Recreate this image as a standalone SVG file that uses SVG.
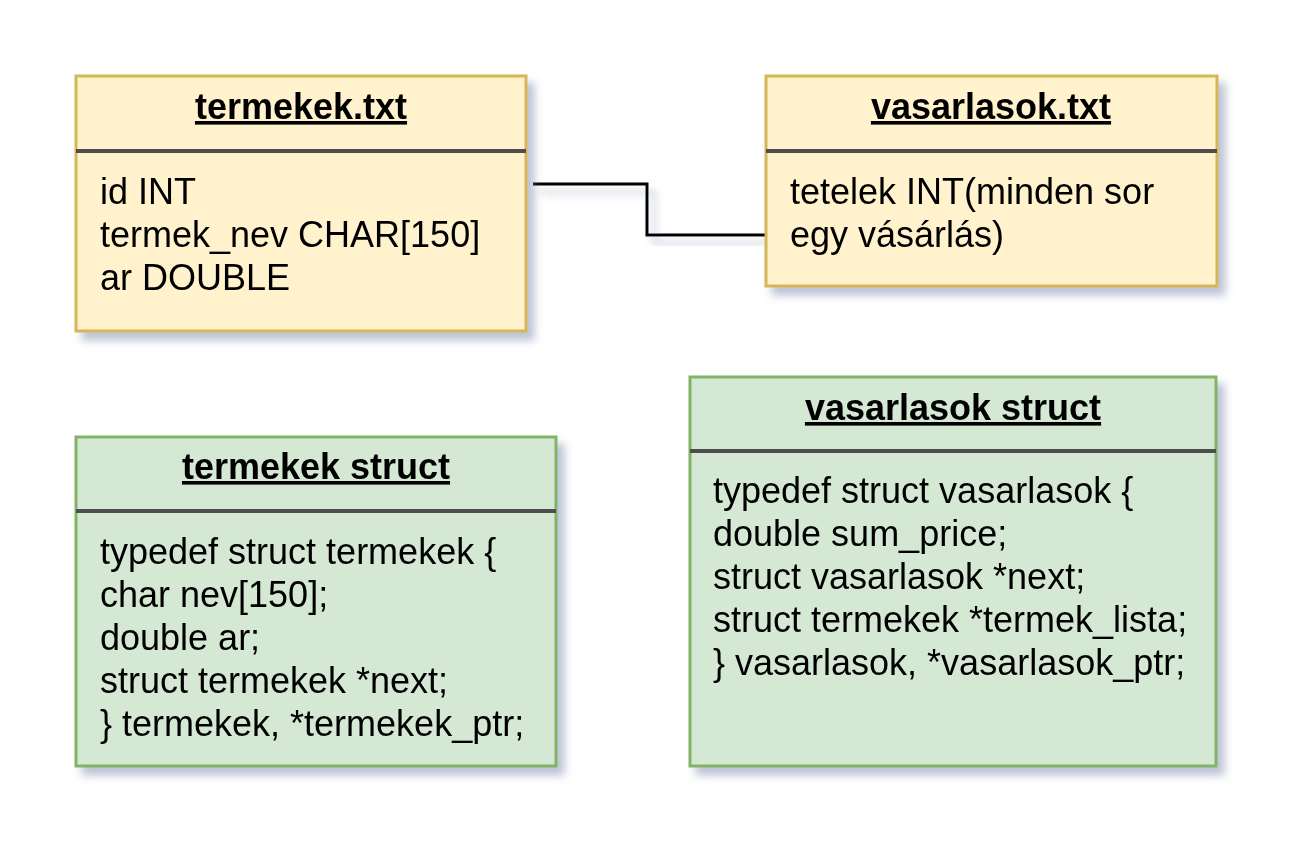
<svg xmlns="http://www.w3.org/2000/svg" width="1311" height="861" viewBox="0 0 1311 861">
<defs>
<filter id="sh" x="-10%" y="-10%" width="130%" height="130%">
<feGaussianBlur in="SourceAlpha" stdDeviation="4"/>
<feOffset dx="7" dy="8" result="b"/>
<feFlood flood-color="#6a7aa0" flood-opacity="0.45"/>
<feComposite in2="b" operator="in" result="s"/>
<feMerge><feMergeNode in="s"/><feMergeNode in="SourceGraphic"/></feMerge>
</filter>
<style>
.y{fill:#fff2cc;stroke:#d6b656;stroke-width:3}
.g{fill:#d5e8d4;stroke:#82b366;stroke-width:3}
.div{stroke:#4d4d4d;stroke-width:4}
.t{font-family:"Liberation Sans",Arial,sans-serif;font-size:36px;font-weight:bold;text-anchor:middle;text-decoration:underline;fill:#000}
.b{font-family:"Liberation Sans",Arial,sans-serif;font-size:36px;fill:#000}
.e{fill:none;stroke:#000;stroke-width:3}
</style>
</defs>
<rect width="1311" height="861" fill="#ffffff"/>
<g id="edges" filter="url(#sh)">
<path class="e" d="M533,184 H647 V235 H766"/>
</g>
<g id="termekek_txt" filter="url(#sh)">
<rect class="y" x="76" y="76" width="450" height="255"/>
<line class="div" x1="76" y1="151" x2="526" y2="151"/>
<text class="t" x="301" y="119">termekek.txt</text>
<text class="b" x="100" y="204">id INT</text>
<text class="b" x="100" y="247">termek_nev CHAR[150]</text>
<text class="b" x="100" y="290">ar DOUBLE</text>
</g>
<g id="vasarlasok_txt" filter="url(#sh)">
<rect class="y" x="766" y="76" width="451" height="210"/>
<line class="div" x1="766" y1="151" x2="1217" y2="151"/>
<text class="t" x="991" y="119">vasarlasok.txt</text>
<text class="b" x="790" y="204">tetelek INT(minden sor</text>
<text class="b" x="790" y="247">egy vásárlás)</text>
</g>
<g id="termekek_struct" filter="url(#sh)">
<rect class="g" x="76" y="437" width="480" height="329"/>
<line class="div" x1="76" y1="511" x2="556" y2="511"/>
<text class="t" x="316" y="479">termekek struct</text>
<text class="b" x="100" y="564">typedef struct termekek {</text>
<text class="b" x="100" y="607">char nev[150];</text>
<text class="b" x="100" y="650">double ar;</text>
<text class="b" x="100" y="693">struct termekek *next;</text>
<text class="b" x="100" y="736">} termekek, *termekek_ptr;</text>
</g>
<g id="vasarlasok_struct" filter="url(#sh)">
<rect class="g" x="690" y="377" width="526" height="389"/>
<line class="div" x1="690" y1="451" x2="1216" y2="451"/>
<text class="t" x="953" y="420">vasarlasok struct</text>
<text class="b" x="713" y="503">typedef struct vasarlasok {</text>
<text class="b" x="713" y="546">double sum_price;</text>
<text class="b" x="713" y="589">struct vasarlasok *next;</text>
<text class="b" x="713" y="632">struct termekek *termek_lista;</text>
<text class="b" x="713" y="675">} vasarlasok, *vasarlasok_ptr;</text>
</g>
</svg>
